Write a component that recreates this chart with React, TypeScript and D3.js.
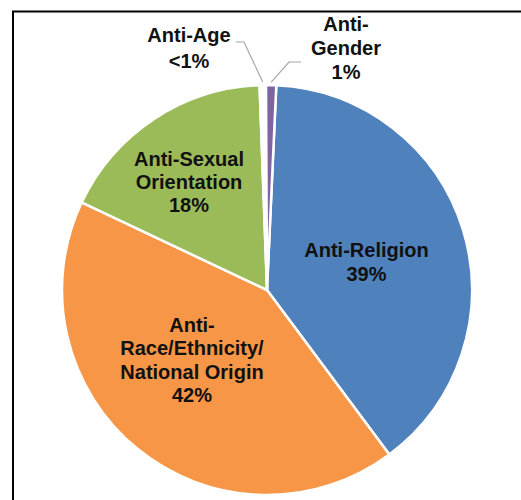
import React from "react";
import * as d3 from "d3";

const categories = [
  "Anti-Religion",
  "Anti-Race/Ethnicity/National Origin",
  "Anti-Sexual Orientation",
  "Anti-Age",
  "Anti-Gender",
];
const values = [39.1, 42.2, 17.4, 0.5, 0.8];
const labelLines = [
  ["Anti-Religion", "39%"],
  ["Anti-", "Race/Ethnicity/", "National Origin", "42%"],
  ["Anti-Sexual", "Orientation", "18%"],
  ["Anti-Age", "<1%"],
  ["Anti-", "Gender", "1%"],
];
const colors = ["#4f81bd", "#f79646", "#9bbb59", "#ffffff", "#8064a2"];

// layout (not data)
const W = 521;
const H = 500;
const CX = 267;
const CY = 290;
const R = 205;
const START_DEG = 2.6;
const labelLayout = [
  { x: 366.5, y: 257, lh: 24 },
  { x: 192, y: 332, lh: 23.4 },
  { x: 189, y: 165.5, lh: 23.4 },
  { x: 189, y: 42, lh: 25.5 },
  { x: 346, y: 31, lh: 23.8 },
];

export default function App() {
  const start = (START_DEG * Math.PI) / 180;
  const pie = d3
    .pie<number>()
    .sort(null)
    .value((d) => d)
    .startAngle(start)
    .endAngle(start + 2 * Math.PI);
  const arcs = pie(values);
  const arc = d3.arc<d3.PieArcDatum<number>>().innerRadius(0).outerRadius(R);

  const edgePt = (a: number, r: number) => [CX + r * Math.sin(a), CY - r * Math.cos(a)];
  const ageMid = (arcs[3].startAngle + arcs[3].endAngle) / 2;
  const genMid = (arcs[4].startAngle + arcs[4].endAngle) / 2;
  const ageEdge = edgePt(ageMid, R + 3);
  const genEdge = edgePt(genMid, R + 3);
  const line = d3.line();
  const ageLeader = line([
    [236, 42],
    [244, 42],
    [ageEdge[0], ageEdge[1]],
  ] as [number, number][]);
  const genLeader = line([
    [genEdge[0], genEdge[1]],
    [289, 62],
    [301, 62],
  ] as [number, number][]);

  return (
    <svg
      width={W}
      height={H}
      style={{ position: "absolute", left: 0, top: 0, background: "#fff" }}
      fontFamily="'Liberation Sans', Arial, sans-serif"
    >
      <rect x={0} y={0} width={W} height={H} fill="#fff" />
      <rect x={13} y={11.5} width={700} height={700} fill="none" stroke="#000" strokeWidth={2} />
      <g transform={`translate(${CX},${CY})`}>
        {arcs.map((a, i) => (
          <path
            key={categories[i]}
            d={arc(a) || ""}
            fill={colors[i]}
            stroke="#fff"
            strokeWidth={2.5}
            strokeLinejoin="round"
          />
        ))}
      </g>
      <path d={ageLeader || ""} fill="none" stroke="#a6a6a6" strokeWidth={1.2} />
      <path d={genLeader || ""} fill="none" stroke="#a6a6a6" strokeWidth={1.2} />
      {labelLines.map((lines, i) => (
        <text
          key={i}
          x={labelLayout[i].x}
          y={labelLayout[i].y}
          textAnchor="middle"
          fontWeight="bold"
          fontSize={20}
          fill="#111"
        >
          {lines.map((t, j) => (
            <tspan key={j} x={labelLayout[i].x} y={labelLayout[i].y + j * labelLayout[i].lh}>
              {t}
            </tspan>
          ))}
        </text>
      ))}
    </svg>
  );
}
